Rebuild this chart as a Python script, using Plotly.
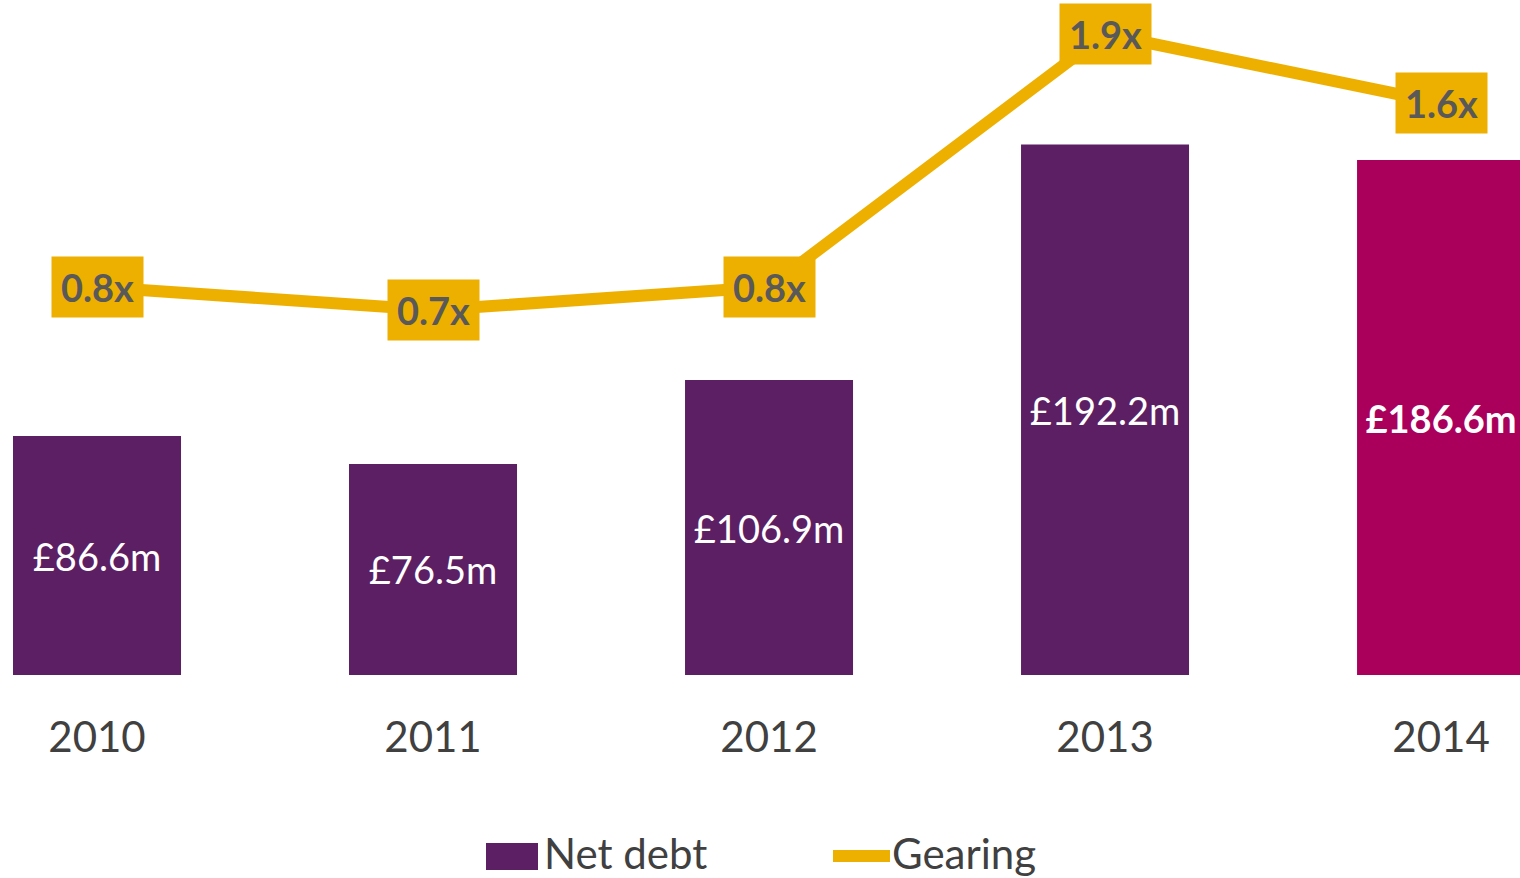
import plotly.graph_objects as go

# Net debt (£m) and gearing (x) by year
years = ["2010", "2011", "2012", "2013", "2014"]
net_debt = [86.6, 76.5, 106.9, 192.2, 186.6]
gearing = [0.8, 0.7, 0.8, 1.9, 1.6]
debt_labels = ["£86.6m", "£76.5m", "£106.9m", "£192.2m", "<b>£186.6m</b>"]
gearing_labels = ["0.8x", "0.7x", "0.8x", "1.9x", "1.6x"]

PURPLE = "#5C1F63"
MAGENTA = "#AA005C"
GOLD = "#EEB000"
LABEL_GREY = "#595959"
TEXT_DARK = "#404040"
FONT = "Lato"

W, H = 1520, 878
PLOT_BOTTOM = 675  # pixel row of the bar baseline
MARGIN_B = H - PLOT_BOTTOM

bar_colors = [PURPLE, PURPLE, PURPLE, PURPLE, MAGENTA]

fig = go.Figure()

fig.add_trace(go.Bar(
    x=years, y=net_debt, width=0.5,
    marker=dict(color=bar_colors, line=dict(width=0)),
    text=debt_labels, textposition="inside", insidetextanchor="middle",
    textfont=dict(family=FONT, size=38, color="white"),
    textangle=0,
    name="Net debt", showlegend=False,
))

fig.add_trace(go.Scatter(
    x=years, y=gearing, yaxis="y2", mode="lines",
    line=dict(color=GOLD, width=12),
    name="Gearing", showlegend=False, cliponaxis=False,
))

# Gearing value boxes sitting on the line points (category index positions)
annotations = []
for i, (g, lab) in enumerate(zip(gearing, gearing_labels)):
    annotations.append(dict(
        x=i, y=g, xref="x", yref="y2", text=f"<b>{lab}</b>",
        showarrow=False, width=91, height=60, borderpad=0,
        bgcolor=GOLD, font=dict(family=FONT, size=38, color=LABEL_GREY),
        xanchor="center", yanchor="middle",
    ))

# Legend drawn below the axis
def py(p):
    return (PLOT_BOTTOM - p) / PLOT_BOTTOM

shapes = [
    dict(type="rect", xref="paper", yref="paper",
         x0=486 / W, x1=538 / W, y0=py(870), y1=py(843),
         fillcolor=PURPLE, line=dict(width=0)),
    dict(type="line", xref="paper", yref="paper",
         x0=833 / W, x1=890 / W, y0=py(856), y1=py(856),
         line=dict(color=GOLD, width=12)),
]
annotations += [
    dict(x=542 / W, y=py(853), xref="paper", yref="paper", text="Net debt",
         showarrow=False, xanchor="left", yanchor="middle",
         font=dict(family=FONT, size=42, color=TEXT_DARK)),
    dict(x=890 / W, y=py(853), xref="paper", yref="paper", text="Gearing",
         showarrow=False, xanchor="left", yanchor="middle",
         font=dict(family=FONT, size=42, color=TEXT_DARK)),
]

px_per_m = 2.7595
gear_top, gear_px = 471.0, 230.0

fig.update_layout(
    width=W, height=H,
    margin=dict(l=0, r=0, t=0, b=MARGIN_B, pad=0),
    paper_bgcolor="white", plot_bgcolor="white",
    showlegend=False,
    bargap=0.5,
    xaxis=dict(
        type="category", range=[-0.2887, 4.235],
        showgrid=False, zeroline=False, showline=False, ticks="",
        tickfont=dict(family=FONT, size=42, color=TEXT_DARK),
        ticklabelstandoff=34,
    ),
    yaxis=dict(
        range=[0, PLOT_BOTTOM / px_per_m],
        showgrid=False, zeroline=False, showline=False,
        showticklabels=False, ticks="",
    ),
    yaxis2=dict(
        overlaying="y", side="right",
        range=[(gear_top - PLOT_BOTTOM) / gear_px, gear_top / gear_px],
        showgrid=False, zeroline=False, showline=False,
        showticklabels=False, ticks="",
    ),
    annotations=annotations,
    shapes=shapes,
)

fig.write_html("out.html")
